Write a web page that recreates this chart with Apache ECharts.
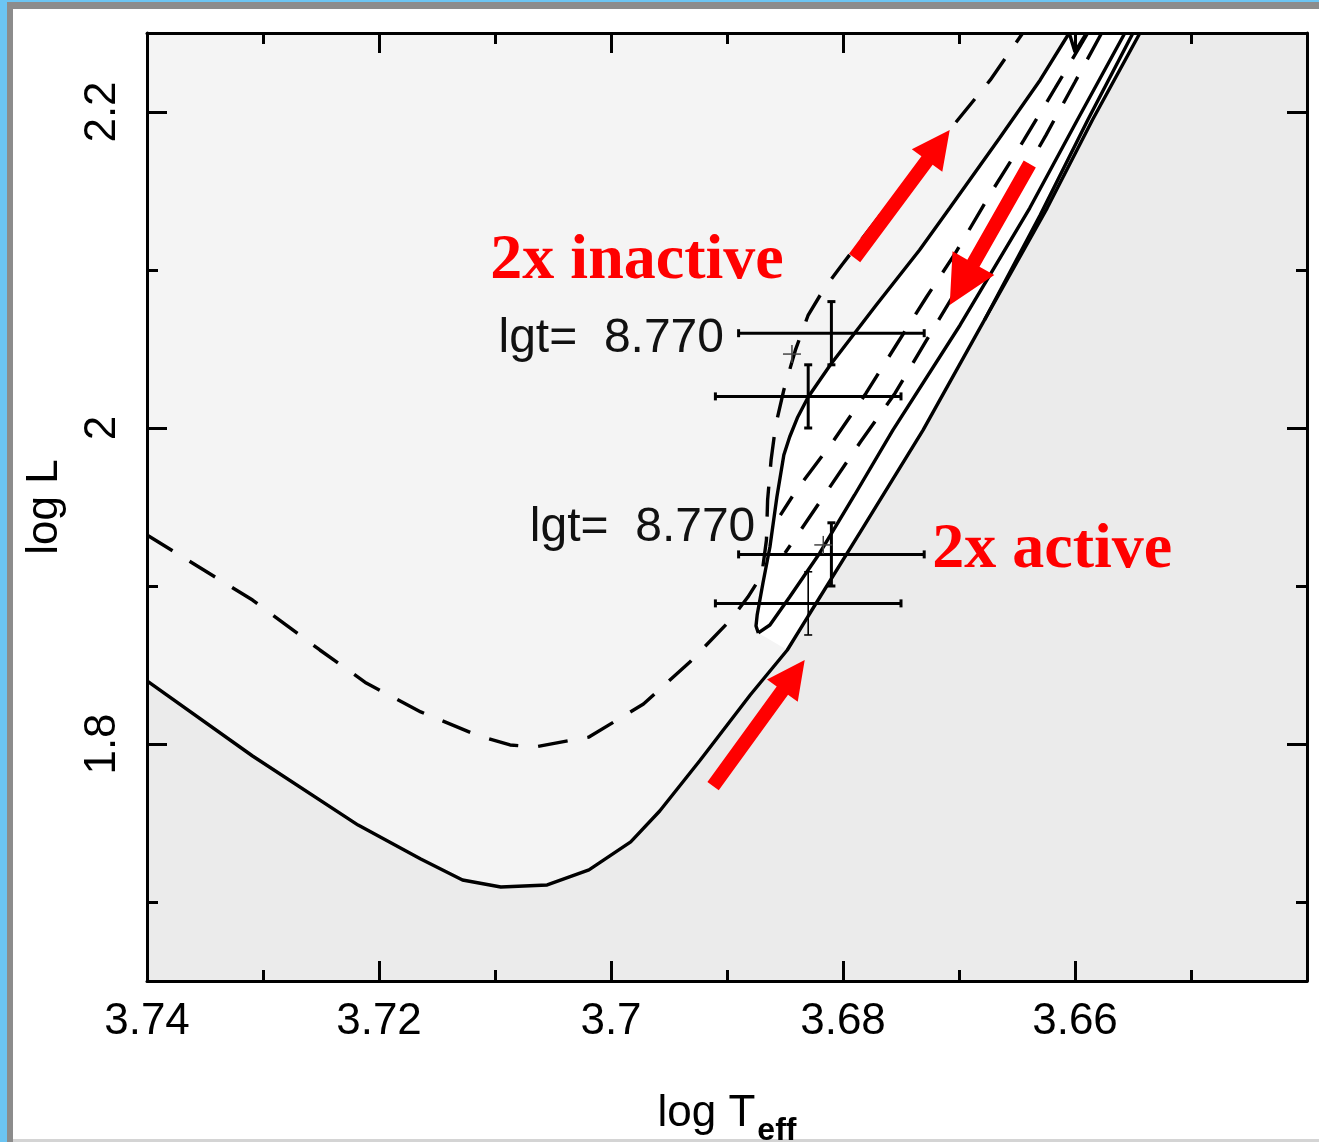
<!DOCTYPE html>
<html>
<head>
<meta charset="utf-8">
<script src="https://cdn.jsdelivr.net/npm/echarts@6/dist/echarts.min.js"></script>
<style>
  html, body { margin: 0; padding: 0; background: #fff; }
  #chart { width: 1319px; height: 1142px; }
</style>
</head>
<body>
<div id="chart"></div>
<script>
// axis ranges, log Teff runs backwards
const teffMin = 3.64, teffMax = 3.74;
const lumMin = 1.65, lumMax = 2.25;
const teffLabels = [3.74, 3.72, 3.70, 3.68, 3.66];
const teffMinor = [3.73, 3.71, 3.69, 3.67, 3.65];
const lumLabels = [1.8, 2.0, 2.2];
const lumMinor = [1.7, 1.9, 2.1];

// active models (solid), [log Teff, log L]
const activeRgbA = [
  [3.7400, 1.8399], [3.7309, 1.7924], [3.7218, 1.7487], [3.7164, 1.7272],
  [3.7128, 1.7139], [3.7095, 1.7095], [3.7055, 1.7108], [3.7019, 1.7203],
  [3.6983, 1.7380], [3.6958, 1.7576], [3.6923, 1.7899], [3.6880, 1.8310],
  [3.6848, 1.8595], [3.6830, 1.8810], [3.6785, 1.9342], [3.6731, 1.9987],
  [3.6678, 2.0684], [3.6624, 2.1392], [3.6585, 2.1949], [3.6544, 2.2500]
];
const activeRgbB = [
  [3.6678, 2.0684], [3.6630, 2.1348], [3.6589, 2.1949], [3.6550, 2.2500]
];
const activeClumpDown = [
  [3.6557, 2.2500], [3.6598, 2.1949], [3.6639, 2.1392], [3.6699, 2.0652],
  [3.6757, 1.9987], [3.6790, 1.9576], [3.6820, 1.9209], [3.6846, 1.8930],
  [3.6863, 1.8753], [3.6873, 1.8703]
];
const activeClumpUp = [
  [3.6873, 1.8703], [3.6875, 1.8747], [3.6874, 1.8816], [3.6869, 1.9019],
  [3.6863, 1.9247], [3.6857, 1.9563], [3.6851, 1.9829], [3.6846, 1.9943],
  [3.6839, 2.0070], [3.6830, 2.0196], [3.6811, 2.0399], [3.6772, 2.0772],
  [3.6734, 2.1127], [3.6708, 2.1392], [3.6665, 2.1835], [3.6630, 2.2203],
  [3.6605, 2.2500], [3.6600, 2.2380], [3.6590, 2.2500]
];

// inactive models (dashed)
const inactiveRgb = [
  [3.7400, 1.9323], [3.7309, 1.8911], [3.7251, 1.8595], [3.7211, 1.8386],
  [3.7164, 1.8203], [3.7116, 1.8057], [3.7087, 1.7994], [3.7066, 1.7981],
  [3.7019, 1.8044], [3.6972, 1.8253], [3.6932, 1.8519], [3.6897, 1.8785],
  [3.6882, 1.8930], [3.6870, 1.9070], [3.6866, 1.9291], [3.6865, 1.9544],
  [3.6862, 1.9797], [3.6858, 2.0019], [3.6851, 2.0241], [3.6841, 2.0494],
  [3.6830, 2.0715], [3.6817, 2.0873], [3.6801, 2.1032], [3.6751, 2.1506],
  [3.6706, 2.1905], [3.6673, 2.2203], [3.6645, 2.2500]
];
const inactiveBranchA = [
  [3.6589, 2.2500], [3.6617, 2.2152], [3.6644, 2.1823], [3.6671, 2.1506],
  [3.6703, 2.1108], [3.6728, 2.0829], [3.6753, 2.0538], [3.6780, 2.0222],
  [3.6809, 1.9911], [3.6840, 1.9608], [3.6854, 1.9449]
];
const inactiveBranchB = [
  [3.6577, 2.2500], [3.6600, 2.2190], [3.6625, 2.1854], [3.6652, 2.1506],
  [3.6678, 2.1190], [3.6703, 2.0861], [3.6729, 2.0544], [3.6755, 2.0222],
  [3.6785, 1.9911], [3.6813, 1.9608], [3.6841, 1.9304], [3.6850, 1.9209]
];

// observed stars: log Teff, log L, err Teff, err L
const inactiveStars = [[3.681, 2.060, 0.008, 0.02], [3.683, 2.020, 0.008, 0.02]];
const activeStars = [[3.681, 1.920, 0.008, 0.02], [3.683, 1.889, 0.008, 0.02]];
const modelPoints = [[3.6844, 2.0468], [3.6817, 1.9260]];

// annotations
const ageLabels = [[3.7097, 2.0563, 'lgt=  8.770'], [3.7070, 1.9367, 'lgt=  8.770']];
const redLabels = [[3.7104, 2.1051, '2x inactive'], [3.6723, 1.9228, '2x active']];
// tail Teff, tail L, tip Teff, tip L
const arrows = [
  [3.6790, 2.1076, 3.6708, 2.1886],
  [3.6639, 2.1671, 3.6708, 2.0779],
  [3.6912, 1.7734, 3.6833, 1.8532]
];
const arrowHead = [38, 48, 38];

const chart = echarts.init(document.getElementById('chart'));

function polygonSeries(points, fill) {
  return {
    type: 'custom',
    z: 1,
    silent: true,
    data: [[teffMax, lumMin]],
    renderItem: function (params, api) {
      return {
        type: 'polygon',
        shape: { points: points.map(p => api.coord(p)) },
        style: { fill: fill }
      };
    }
  };
}

function lineSeries(data, dashed) {
  return {
    type: 'line',
    data: data,
    showSymbol: false,
    symbol: 'none',
    z: 3,
    silent: true,
    lineStyle: { color: '#000', width: 3.4, type: dashed ? [30, 20] : 'solid' }
  };
}

const grayZone = activeRgbA.concat([[teffMin, lumMax], [teffMin, lumMin], [teffMax, lumMin]]);
const whiteZone = activeRgbA.filter(p => p[0] < 3.685)
  .concat(activeClumpUp.slice().reverse());

const blk = { color: '#000', width: 3 };
const xBase = { type: 'value', min: teffMin, max: teffMax, inverse: true, splitLine: { show: false }, z: 5 };
const yBase = { type: 'value', min: lumMin, max: lumMax, splitLine: { show: false }, z: 5 };

function majorTick(vals) {
  return { show: true, inside: true, length: 20, customValues: vals, lineStyle: blk };
}
function minorTick(vals) {
  return { show: true, inside: true, length: 11, customValues: vals, lineStyle: blk };
}

chart.setOption({
  animation: false,
  backgroundColor: '#fff',
  textStyle: { fontFamily: 'Liberation Sans' },
  grid: {
    left: 147, right: 12, top: 33, bottom: 161,
    show: true, backgroundColor: '#f4f4f4', borderWidth: 0,
    containLabel: false, outerBoundsMode: 'none'
  },
  xAxis: [
    Object.assign({}, xBase, {
      position: 'bottom',
      axisLine: { show: true, onZero: false, lineStyle: blk },
      axisTick: majorTick(teffLabels),
      axisLabel: { show: true, customValues: teffLabels, margin: 19, fontSize: 44, color: '#000' },
      name: '{a|log T}{b|eff}',
      nameLocation: 'middle',
      nameGap: 100,
      nameTextStyle: {
        rich: {
          a: { fontSize: 44, color: '#000', fontFamily: 'Liberation Sans' },
          b: { fontSize: 32, color: '#000', fontWeight: 'bold', fontFamily: 'Liberation Sans', padding: [34, 0, 0, 2] }
        }
      }
    }),
    Object.assign({}, xBase, {
      position: 'bottom', axisLine: { show: false, onZero: false },
      axisTick: minorTick(teffMinor), axisLabel: { show: false }
    }),
    Object.assign({}, xBase, {
      position: 'top', axisLine: { show: true, onZero: false, lineStyle: blk },
      axisTick: majorTick(teffLabels), axisLabel: { show: false }
    }),
    Object.assign({}, xBase, {
      position: 'top', axisLine: { show: false, onZero: false },
      axisTick: minorTick(teffMinor), axisLabel: { show: false }
    })
  ],
  yAxis: [
    Object.assign({}, yBase, {
      position: 'left',
      axisLine: { show: true, onZero: false, lineStyle: blk },
      axisTick: majorTick(lumLabels),
      axisLabel: { show: true, customValues: lumLabels, rotate: 90, margin: 22, fontSize: 44, color: '#000' },
      name: 'log L',
      nameLocation: 'middle',
      nameGap: 80,
      nameTextStyle: { fontSize: 44, color: '#000' }
    }),
    Object.assign({}, yBase, {
      position: 'left', axisLine: { show: false, onZero: false },
      axisTick: minorTick(lumMinor), axisLabel: { show: false }
    }),
    Object.assign({}, yBase, {
      position: 'right', axisLine: { show: true, onZero: false, lineStyle: blk },
      axisTick: majorTick(lumLabels), axisLabel: { show: false }
    }),
    Object.assign({}, yBase, {
      position: 'right', axisLine: { show: false, onZero: false },
      axisTick: minorTick(lumMinor), axisLabel: { show: false }
    })
  ],
  graphic: [
    { type: 'rect', shape: { x: 0, y: 0, width: 1319, height: 2 }, style: { fill: '#6cc5f3' } },
    { type: 'rect', shape: { x: 0, y: 2, width: 1319, height: 7 }, style: { fill: '#8c8c8c' } },
    { type: 'rect', shape: { x: 0, y: 0, width: 7, height: 1142 }, style: { fill: '#6cc5f3' } },
    { type: 'rect', shape: { x: 7, y: 2, width: 6, height: 1140 }, style: { fill: '#8c8c8c' } },
    { type: 'rect', shape: { x: 13, y: 1139, width: 1306, height: 3 }, style: { fill: '#d4d4d4' } }
  ],
  series: [
    polygonSeries(grayZone, '#ebebeb'),
    polygonSeries(whiteZone, '#ffffff'),
    lineSeries(activeRgbA, false),
    lineSeries(activeRgbB, false),
    lineSeries(activeClumpDown, false),
    lineSeries(activeClumpUp, false),
    lineSeries(inactiveRgb, true),
    lineSeries(inactiveBranchA, true),
    lineSeries(inactiveBranchB, true),
    {
      // error crosses
      type: 'custom',
      z: 4,
      silent: true,
      data: inactiveStars.concat(activeStars),
      renderItem: function (params, api) {
        const x = api.value(0), y = api.value(1), dx = api.value(2), dy = api.value(3);
        const l = api.coord([x + dx, y]), r = api.coord([x - dx, y]);
        const t = api.coord([x, y + dy]), b = api.coord([x, y - dy]);
        const vw = params.dataIndex === 3 ? 1.6 : 3;
        const st = { stroke: '#000', lineWidth: 3 };
        const vs = { stroke: '#000', lineWidth: vw };
        const c = 4;
        return {
          type: 'group',
          children: [
            { type: 'line', shape: { x1: l[0], y1: l[1], x2: r[0], y2: r[1] }, style: st },
            { type: 'line', shape: { x1: l[0], y1: l[1] - c, x2: l[0], y2: l[1] + c }, style: st },
            { type: 'line', shape: { x1: r[0], y1: r[1] - c, x2: r[0], y2: r[1] + c }, style: st },
            { type: 'line', shape: { x1: t[0], y1: t[1], x2: b[0], y2: b[1] }, style: vs },
            { type: 'line', shape: { x1: t[0] - c, y1: t[1], x2: t[0] + c, y2: t[1] }, style: vs },
            { type: 'line', shape: { x1: b[0] - c, y1: b[1], x2: b[0] + c, y2: b[1] }, style: vs }
          ]
        };
      }
    },
    {
      // small model plus markers
      type: 'custom',
      z: 4,
      silent: true,
      data: modelPoints,
      renderItem: function (params, api) {
        const p = api.coord([api.value(0), api.value(1)]);
        const s = { stroke: '#444', lineWidth: 1.5 };
        return {
          type: 'group',
          children: [
            { type: 'line', shape: { x1: p[0] - 9, y1: p[1], x2: p[0] + 9, y2: p[1] }, style: s },
            { type: 'line', shape: { x1: p[0], y1: p[1] - 9, x2: p[0], y2: p[1] + 9 }, style: s }
          ]
        };
      }
    },
    {
      // age labels
      type: 'custom',
      z: 6,
      silent: true,
      data: ageLabels.map(d => [d[0], d[1]]),
      renderItem: function (params, api) {
        const p = api.coord([api.value(0), api.value(1)]);
        return {
          type: 'text', x: p[0], y: p[1],
          style: {
            text: ageLabels[params.dataIndex][2], fill: '#111',
            fontSize: 48, fontFamily: 'Liberation Sans',
            align: 'left', verticalAlign: 'middle'
          }
        };
      }
    },
    {
      // red labels
      type: 'custom',
      z: 6,
      silent: true,
      data: redLabels.map(d => [d[0], d[1]]),
      renderItem: function (params, api) {
        const p = api.coord([api.value(0), api.value(1)]);
        return {
          type: 'text', x: p[0], y: p[1],
          style: {
            text: redLabels[params.dataIndex][2], fill: '#ff0000',
            fontSize: 64, fontWeight: 'bold', fontFamily: 'Liberation Serif',
            align: 'left', verticalAlign: 'middle'
          }
        };
      }
    },
    {
      // red arrows
      type: 'custom',
      z: 6,
      silent: true,
      data: arrows,
      renderItem: function (params, api) {
        const a = api.coord([api.value(0), api.value(1)]);
        const b = api.coord([api.value(2), api.value(3)]);
        const len = Math.hypot(b[0] - a[0], b[1] - a[1]);
        const ux = (b[0] - a[0]) / len, uy = (b[1] - a[1]) / len;
        const nx = -uy, ny = ux;
        const h = arrowHead[params.dataIndex];
        const w = h * 0.5, s = 7;
        const bx = b[0] - ux * h, by = b[1] - uy * h;
        const pts = [
          [a[0] + nx * s, a[1] + ny * s], [bx + nx * s, by + ny * s], [bx + nx * w, by + ny * w],
          [b[0], b[1]],
          [bx - nx * w, by - ny * w], [bx - nx * s, by - ny * s], [a[0] - nx * s, a[1] - ny * s]
        ];
        return { type: 'polygon', shape: { points: pts }, style: { fill: '#ff0000' } };
      }
    }
  ]
});
</script>
</body>
</html>
